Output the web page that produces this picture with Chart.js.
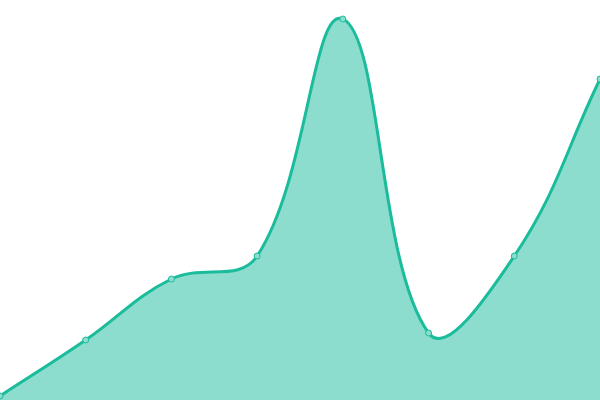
<!DOCTYPE html>
<html>
<head>
<meta charset="utf-8">
<script src="https://cdn.jsdelivr.net/npm/chart.js@4"></script>
<style>
html,body{margin:0;padding:0;background:#fff;}
#wrap{width:600px;height:400px;}
</style>
</head>
<body>
<div id="wrap"><canvas id="c"></canvas></div>
<script>
const labels = ["1", "2", "3", "4", "5", "6", "7", "8"];
const values = [4, 60, 121, 144, 381, 67, 144, 321];
const yMin = 0;
const yMax = 400;

new Chart(document.getElementById('c'), {
  type: 'line',
  data: {
    labels: labels,
    datasets: [{
      data: values,
      borderColor: 'rgb(26,188,156)',
      backgroundColor: 'rgba(26,188,156,0.5)',
      fill: 'origin',
      tension: 0.4,
      borderWidth: 3,
      pointRadius: 3,
      pointBorderWidth: 1,
      pointBackgroundColor: 'rgb(140,221,205)',
      pointBorderColor: 'rgb(26,188,156)',
      clip: false
    }]
  },
  options: {
    responsive: true,
    maintainAspectRatio: false,
    animation: false,
    layout: { padding: 0, autoPadding: false },
    plugins: { legend: { display: false }, tooltip: { enabled: false } },
    scales: {
      x: { display: false, offset: false },
      y: { display: false, min: yMin, max: yMax }
    }
  }
});
</script>
</body>
</html>
